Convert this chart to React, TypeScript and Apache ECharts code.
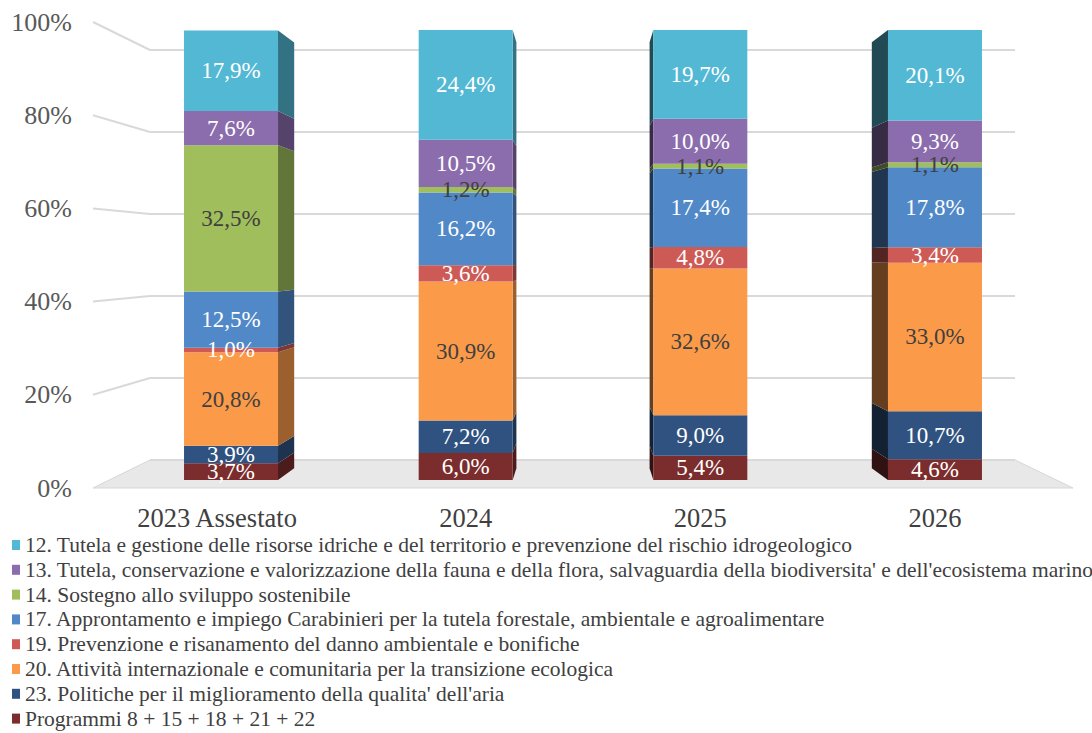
import React, { useEffect, useRef } from "react";
import * as echarts from "echarts";

const categories = ["2023 Assestato", "2024", "2025", "2026"];
const yTicks = [0, 20, 40, 60, 80, 100];

const names = [
  "Programmi 8 + 15 + 18 + 21 + 22",
  "23. Politiche per il miglioramento della qualita' dell'aria",
  "20. Attività internazionale e comunitaria per la transizione ecologica",
  "19. Prevenzione e risanamento del danno ambientale e bonifiche",
  "17. Approntamento e impiego Carabinieri per la tutela forestale, ambientale e agroalimentare",
  "14. Sostegno allo sviluppo sostenibile",
  "13. Tutela, conservazione e valorizzazione della fauna e della flora, salvaguardia della biodiversita' e dell'ecosistema marino",
  "12. Tutela e gestione delle risorse idriche e del territorio e prevenzione del rischio idrogeologico",
];

const programmi = [3.7, 6.0, 5.4, 4.6];
const p23 = [3.9, 7.2, 9.0, 10.7];
const p20 = [20.8, 30.9, 32.6, 33.0];
const p19 = [1.0, 3.6, 4.8, 3.4];
const p17 = [12.5, 16.2, 17.4, 17.8];
const p14 = [32.5, 1.2, 1.1, 1.1];
const p13 = [7.6, 10.5, 10.0, 9.3];
const p12 = [17.9, 24.4, 19.7, 20.1];

const values = [programmi, p23, p20, p19, p17, p14, p13, p12];
const colors = ["#7B2D2D", "#2F5280", "#FB9B4A", "#CD5A55", "#5088C8", "#A0BE5C", "#8B6CAC", "#52B8D4"];
const labelColors = ["#fff", "#fff", "#404040", "#fff", "#fff", "#404040", "#fff", "#fff"];

const FONT = "'Liberation Serif', 'Times New Roman', serif";
const XC = 583;
const YC = 259;
const S = 0.947;

function shade(hex: string, f: number) {
  const n = parseInt(hex.slice(1), 16);
  const r = Math.round(((n >> 16) & 255) * f);
  const g = Math.round(((n >> 8) & 255) * f);
  const b = Math.round((n & 255) * f);
  return `rgb(${r},${g},${b})`;
}

export default function App() {
  const ref = useRef<HTMLDivElement>(null);
  useEffect(() => {
    document.body.style.margin = "0";
    const chart = echarts.init(ref.current!, null, { renderer: "svg" });

    const bases: number[][] = [];
    const acc = categories.map(() => 0);
    values.forEach((arr) => {
      bases.push(acc.slice());
      arr.forEach((v, i) => (acc[i] += v));
    });

    const series: any[] = [];
    values.forEach((arr, k) => {
      series.push({
        type: "bar",
        name: names[k],
        stack: "total",
        barWidth: 94,
        xAxisIndex: 0,
        yAxisIndex: 0,
        data: arr,
        itemStyle: { color: colors[k] },
        z: 3,
        label: {
          show: true,
          position: "inside",
          color: labelColors[k],
          fontFamily: FONT,
          fontSize: 23,
          formatter: (p: any) => p.value.toFixed(1).replace(".", ",") + "%",
        },
      });
      series.push({
        type: "custom",
        name: "side" + k,
        xAxisIndex: 0,
        yAxisIndex: 0,
        z: 2,
        silent: true,
        data: arr.map((v, i) => [i, bases[k][i], bases[k][i] + v]),
        renderItem: (params: any, api: any) => {
          const i = api.value(0);
          const p0 = api.coord([i, api.value(1)]);
          const p1 = api.coord([i, api.value(2)]);
          const xl = p0[0] - 47;
          const xr = p0[0] + 47;
          const right = xr < XC;
          const edge = right ? xr : xl;
          const bx = XC + (edge - XC) * S;
          const points = [
            [edge, p1[1]],
            [bx, YC + (p1[1] - YC) * S],
            [bx, YC + (p0[1] - YC) * S],
            [edge, p0[1]],
          ];
          return {
            type: "polygon",
            shape: { points },
            style: { fill: shade(colors[k], right ? 0.62 : 0.4) },
          };
        },
      });
    });

    const frontTop = 22, frontBottom = 488, backTop = 50, backBottom = 460;
    const graphics: any[] = [
      {
        type: "polygon",
        z: 0,
        shape: { points: [[93, 488], [150, 460], [1015, 460], [1073, 488]] },
        style: { fill: "#E8E8E8", stroke: "#D6D6D6", lineWidth: 1 },
      },
    ];
    yTicks.forEach((t) => {
      if (t === 0) return;
      const yf = frontBottom - (t / 100) * (frontBottom - frontTop);
      const yb = backBottom - (t / 100) * (backBottom - backTop);
      graphics.push({
        type: "line",
        z: 0,
        shape: { x1: 93, y1: yf, x2: 150, y2: yb },
        style: { stroke: "#D9D9D9", lineWidth: 2 },
      });
    });

    chart.setOption({
      animation: false,
      backgroundColor: "#fff",
      graphic: graphics,
      grid: [
        { left: 113.7, right: 39.7, top: 30, bottom: 253 },
        { left: 93, right: 19, top: 22, bottom: 245 },
        { left: 150, right: 77, top: 50, bottom: 273 },
      ],
      xAxis: [
        {
          type: "category",
          gridIndex: 0,
          data: categories,
          axisLine: { show: false },
          axisTick: { show: false },
          axisLabel: {
            interval: 0,
            fontFamily: FONT,
            fontSize: 26.5,
            lineHeight: 26,
            color: "#404040",
            margin: 25,
            formatter: (v: string, idx: number) => (idx === 0 ? "{a|" + v + "}" : v),
            rich: { a: { fontFamily: FONT, fontSize: 26.5, lineHeight: 26, color: "#404040", padding: [0, 28, 0, 0] } },
          },
        },
        { type: "value", gridIndex: 1, show: false, min: 0, max: 1 },
        { type: "value", gridIndex: 2, show: false, min: 0, max: 1 },
      ],
      yAxis: [
        { type: "value", gridIndex: 0, min: 0, max: 100, show: false },
        {
          type: "value",
          gridIndex: 1,
          min: 0,
          max: 100,
          interval: 20,
          axisLine: { show: false },
          axisTick: { show: false },
          splitLine: { show: false },
          axisLabel: { formatter: "{value}%", fontFamily: FONT, fontSize: 26, color: "#595959", margin: 21 },
        },
        {
          type: "value",
          gridIndex: 2,
          min: 0,
          max: 100,
          interval: 20,
          axisLine: { show: false },
          axisTick: { show: false },
          axisLabel: { show: false },
          splitLine: { show: true, lineStyle: { color: "#D9D9D9", width: 2 } },
        },
      ],
      legend: {
        orient: "vertical",
        left: 12,
        top: 534,
        height: 199,
        data: names.slice().reverse(),
        icon: "rect",
        itemWidth: 8,
        itemHeight: 10,
        itemGap: 2.8,
        padding: 0,
        textStyle: { fontFamily: FONT, fontSize: 21.5, color: "#404040", lineHeight: 22 },
      },
      series,
    });
    return () => chart.dispose();
  }, []);
  return <div ref={ref} style={{ position: "fixed", left: 0, top: 0, width: 1092, height: 733 }} />;
}
